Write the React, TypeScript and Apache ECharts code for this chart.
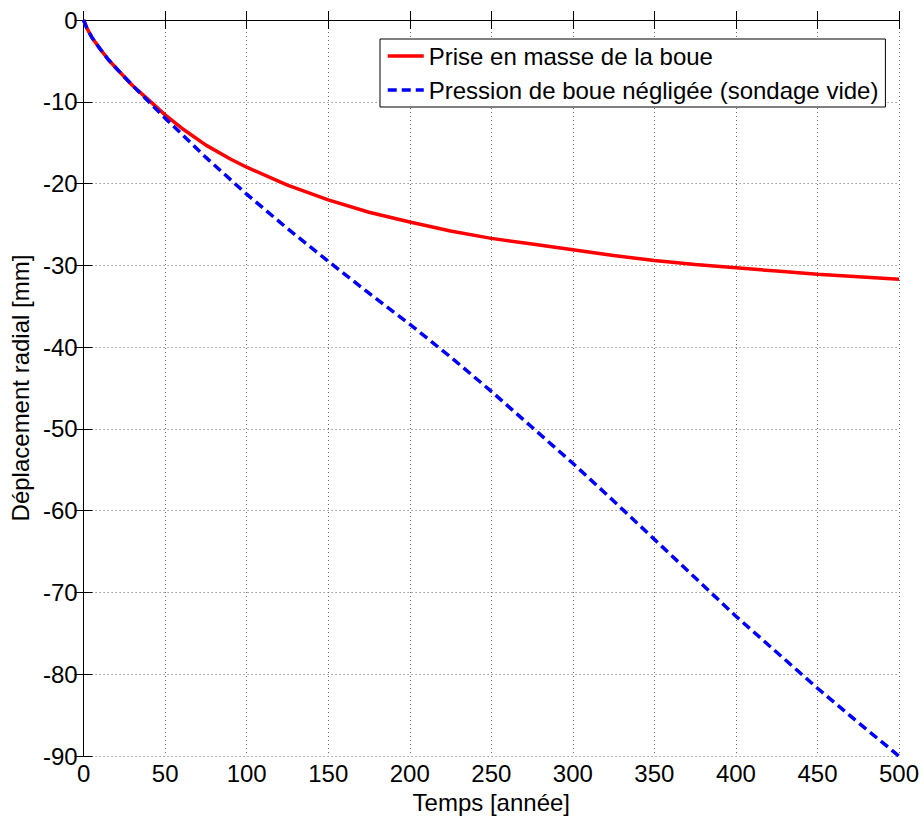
import React, { useEffect, useRef } from "react";
import * as echarts from "echarts";

const redT = [0, 2, 5, 10, 15, 20, 30, 40, 50, 60, 75, 90, 100, 125, 150, 175, 200, 225, 250, 275, 300, 325, 350, 375, 400, 425, 450, 475, 500];
const redV = [0, -1.0, -2.1, -3.5, -4.8, -5.9, -8.0, -9.8, -11.6, -13.2, -15.3, -17.0, -18.0, -20.2, -22.0, -23.5, -24.7, -25.8, -26.7, -27.4, -28.1, -28.8, -29.4, -29.9, -30.3, -30.7, -31.1, -31.4, -31.7];

const blueT = [0, 2, 5, 10, 15, 20, 30, 40, 50, 75, 100, 125, 150, 175, 200, 225, 250, 275, 300, 325, 350, 375, 400, 425, 450, 475, 500];
const blueV = [0, -1.0, -2.1, -3.5, -4.8, -5.9, -8.0, -10.0, -12.0, -16.8, -21.3, -25.5, -29.5, -33.4, -37.2, -41.2, -45.4, -49.8, -54.2, -58.8, -63.5, -68.2, -72.9, -77.3, -81.7, -85.9, -90];

const seriesNames = ["Prise en masse de la boue", "Pression de boue négligée (sondage vide)"];
const xTitle = "Temps [année]";
const yTitle = "Déplacement radial [mm]";

const FONT = "'Liberation Sans', Arial, Helvetica, sans-serif";

export default function App() {
  const ref = useRef<HTMLDivElement>(null);
  useEffect(() => {
    if (!ref.current) return;
    const chart = echarts.init(ref.current, null, { renderer: "svg" });
    const grid = { left: 82, right: 25, top: 20, bottom: 57 };
    const splitLine = { show: true, lineStyle: { color: "#666", width: 1, type: [1, 3] as any } };
    const axisLine = { show: true, lineStyle: { color: "#000", width: 1 } };
    const tick = { show: true, inside: true, length: 9, lineStyle: { color: "#000" } };
    chart.setOption({
      animation: false,
      backgroundColor: "#fff",
      textStyle: { fontFamily: FONT },
      grid,
      legend: {
        left: 380,
        top: 39,
        orient: "vertical",
        backgroundColor: "#fff",
        borderColor: "#000",
        borderWidth: 1,
        borderRadius: 0,
        padding: [5, 7, 5, 6],
        itemGap: 10,
        itemWidth: 36,
        itemHeight: 14,
        itemStyle: { opacity: 0 },
        lineStyle: { width: 3.5 },
        textStyle: { fontSize: 24, color: "#000", fontFamily: FONT },
        data: seriesNames,
      },
      xAxis: [
        {
          type: "value",
          min: 0,
          max: 500,
          interval: 50,
          name: xTitle,
          nameLocation: "middle",
          nameGap: 27,
          nameTextStyle: { fontSize: 24, color: "#000", fontFamily: FONT },
          axisLine,
          axisTick: tick,
          axisLabel: { fontSize: 24, color: "#000", margin: 5, fontFamily: FONT },
          splitLine,
        },
        {
          type: "value",
          position: "top",
          min: 0,
          max: 500,
          interval: 50,
          axisLine,
          axisTick: tick,
          axisLabel: { show: false },
          splitLine: { show: false },
        },
      ],
      yAxis: [
        {
          type: "value",
          min: -90,
          max: 0,
          interval: 10,
          name: yTitle,
          nameLocation: "middle",
          nameGap: 50,
          nameTextStyle: { fontSize: 24, color: "#000", fontFamily: FONT },
          axisLine,
          axisTick: tick,
          axisLabel: { fontSize: 24, color: "#000", margin: 6, fontFamily: FONT },
          splitLine,
        },
        {
          type: "value",
          position: "right",
          min: -90,
          max: 0,
          interval: 10,
          axisLine,
          axisTick: tick,
          axisLabel: { show: false },
          splitLine: { show: false },
        },
      ],
      series: [
        {
          name: seriesNames[0],
          type: "line",
          data: redT.map((t, i) => [t, redV[i]]),
          symbol: "none",
          smooth: false,
          lineStyle: { color: "#ff0000", width: 3.5 },
          itemStyle: { color: "#ff0000" },
          z: 3,
        },
        {
          name: seriesNames[1],
          type: "line",
          data: blueT.map((t, i) => [t, blueV[i]]),
          symbol: "none",
          smooth: false,
          lineStyle: { color: "#0000ff", width: 3.5, type: [9, 5] },
          itemStyle: { color: "#0000ff" },
          z: 4,
        },
      ],
    });
    return () => chart.dispose();
  }, []);
  return (
    <div
      ref={ref}
      style={{ position: "absolute", left: 0, top: 0, width: 924, height: 819 }}
    />
  );
}
